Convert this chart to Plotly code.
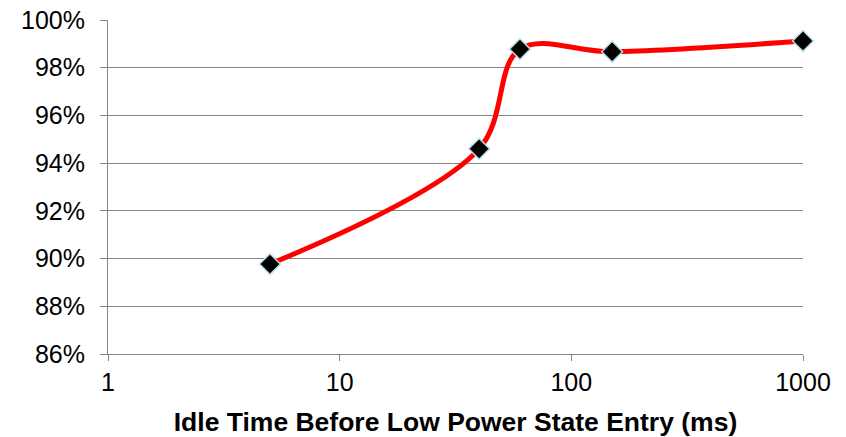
import plotly.graph_objects as go

idle_ms = [5, 40, 60, 150, 1000]
efficiency = [0.8977, 0.9460, 0.9878, 0.9867, 0.9912]

x_ticks = [1, 10, 100, 1000]
x_tick_labels = ["1", "10", "100", "1000"]
y_ticks = [0.86, 0.88, 0.90, 0.92, 0.94, 0.96, 0.98, 1.00]

fig = go.Figure()
fig.add_trace(go.Scatter(
    x=idle_ms, y=efficiency, mode="lines+markers",
    line=dict(color="#ff0000", width=5, shape="spline", smoothing=1.0),
    marker=dict(symbol="diamond", size=16, color="#000000",
                line=dict(color="#b7dde8", width=1.5)),
    showlegend=False, cliponaxis=False,
))

fig.update_layout(
    width=846, height=437,
    margin=dict(l=108, r=43, t=20, b=83),
    plot_bgcolor="white", paper_bgcolor="white",
    font=dict(family="Liberation Sans, Arial, sans-serif", size=25, color="#000000"),
    xaxis=dict(
        type="log", range=[0, 3], tickvals=x_ticks, ticktext=x_tick_labels,
        showgrid=False, showline=True, linecolor="#868686", linewidth=1,
        ticks="outside", ticklen=6, tickcolor="#868686",
        tickfont=dict(size=25), ticklabeloverflow="allow",
        title=dict(text="<b>Idle Time Before Low Power State Entry (ms)</b>",
                   font=dict(size=26.5), standoff=18),
        automargin=False,
    ),
    yaxis=dict(
        range=[0.86, 1.00], tickvals=y_ticks, tickformat=".0%",
        showgrid=True, gridcolor="#868686", gridwidth=1,
        showline=True, linecolor="#868686", linewidth=1,
        ticks="outside", ticklen=7, tickcolor="#868686",
        tickfont=dict(size=25), zeroline=False, automargin=False,
        ticklabeloverflow="allow", ticklabelstandoff=10,
    ),
)

fig.write_html(
    "out.html",
    config={"displayModeBar": False, "staticPlot": True},
    post_script="document.body.style.margin='0';document.body.style.padding='0';",
)
